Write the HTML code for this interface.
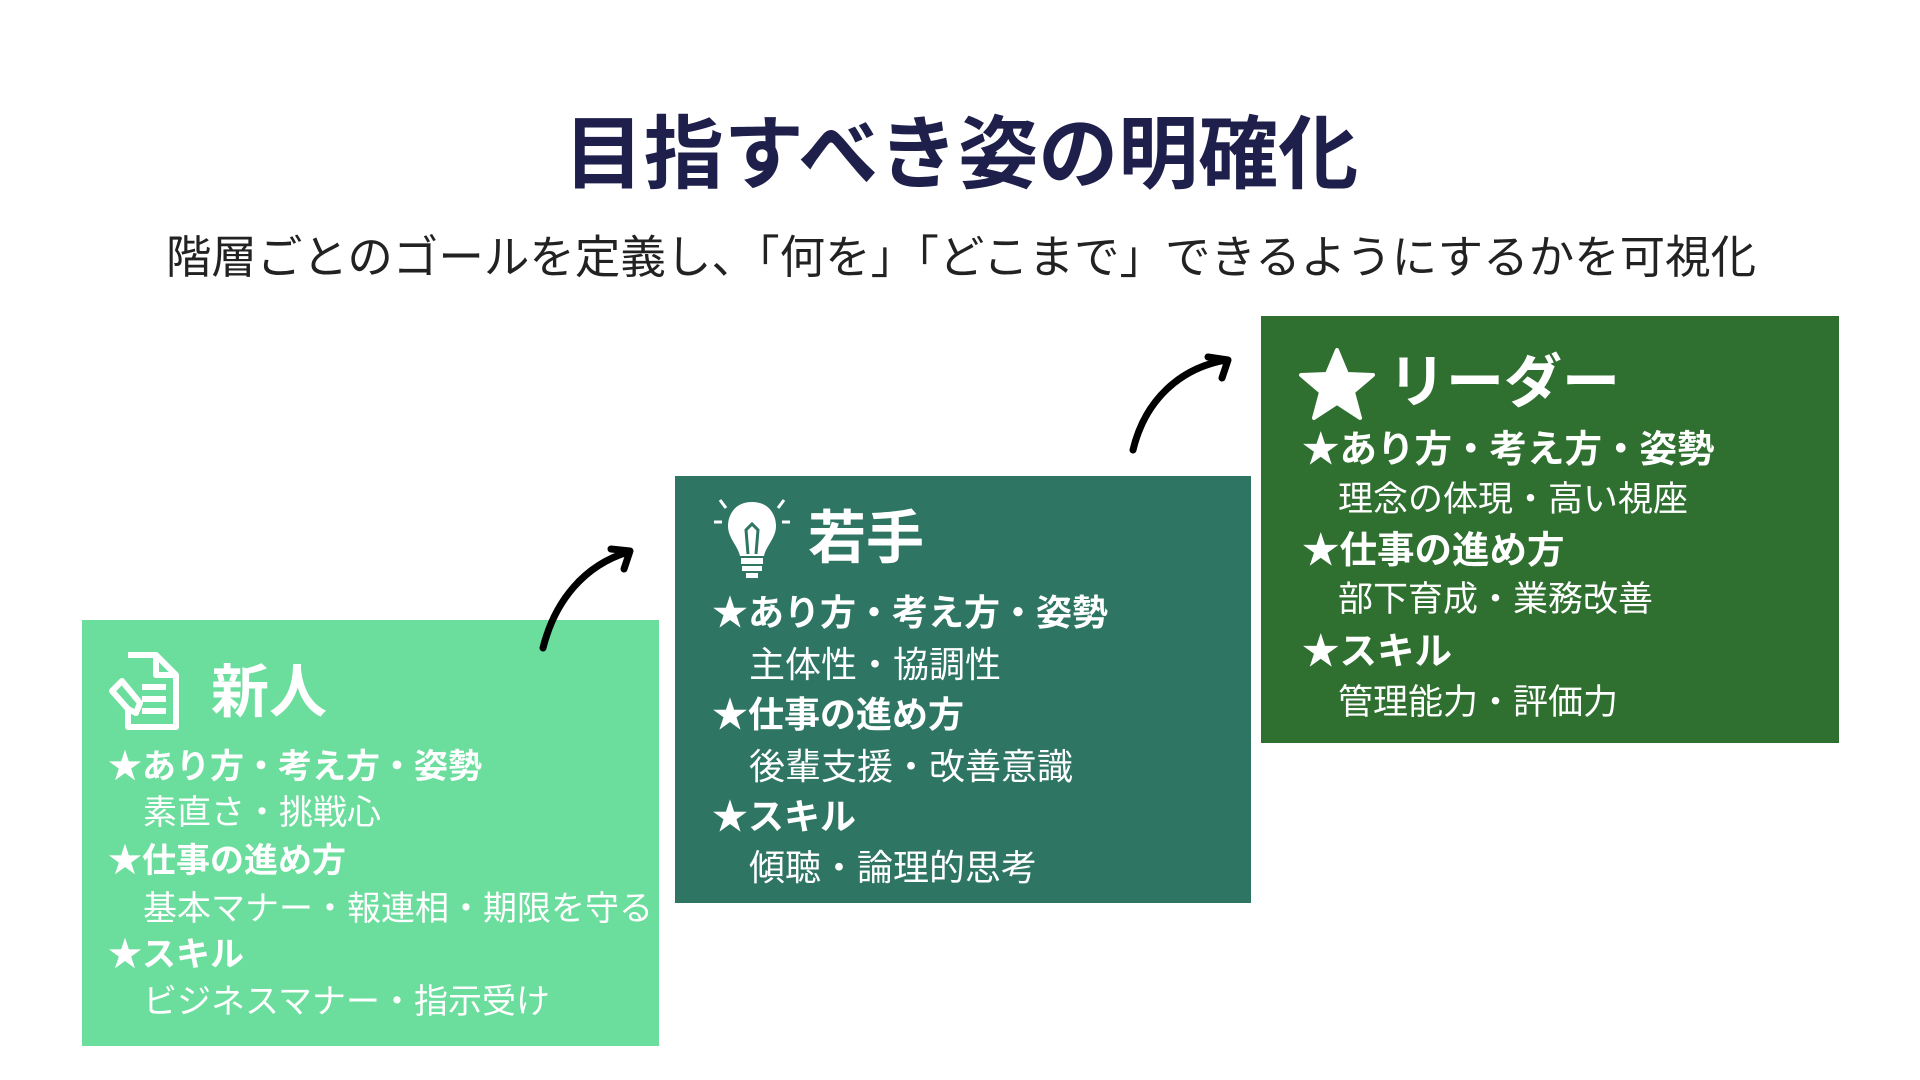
<!DOCTYPE html>
<html><head><meta charset="utf-8"><style>
html,body{margin:0;padding:0;}
body{width:1920px;height:1080px;background:#fff;position:relative;overflow:hidden;font-family:"Liberation Sans","Noto Sans CJK JP",sans-serif;}
.a{position:absolute;white-space:nowrap;}
.box{position:absolute;}
.t{position:absolute;white-space:nowrap;color:#fff;font-size:34px;line-height:40px;}
.t2{font-size:36px;}
.t3{font-size:35px;}
.t3.b{font-size:37.5px;}
.b{font-weight:bold;}
.h{position:absolute;white-space:nowrap;color:#fff;font-size:58px;font-weight:bold;line-height:60px;}
</style></head><body>
<div class="a" style="left:0;width:1922px;text-align:center;top:108px;line-height:94px;font-size:80px;font-weight:bold;color:#1e1f4b;">目指すべき姿の明確化</div>
<div class="a" style="left:0;width:1922px;text-align:center;top:231px;line-height:54px;font-size:45.5px;color:#222;">階層ごとのゴールを定義し、「何を」「どこまで」できるようにするかを可視化</div>

<div class="box" style="left:82px;top:620px;width:577px;height:426px;background:#6bdd9d;"></div>
<div class="box" style="left:675px;top:476px;width:576px;height:427px;background:#2e7663;"></div>
<div class="box" style="left:1261px;top:316px;width:578px;height:427px;background:#2f6f30;"></div>

<!-- box1 -->
<svg class="a" style="left:106px;top:651px" width="80" height="82" viewBox="0 0 80 82">
<g fill="none" stroke="#fff" stroke-width="6" stroke-linejoin="round">
<path d="M22 4 H50 L70 24 V76 H22 V56"/><path d="M50 4 V24 H70"/>
<path d="M36 36 H60 M36 48 H60 M36 60 H60"/>
<path d="M6 40 L16 30 L34 52 L30 62 L22 58 Z"/>
</g></svg>
<div class="h" style="left:211px;top:663px;">新人</div>
<div class="t b" style="left:108px;top:747px;">★あり方・考え方・姿勢</div>
<div class="t" style="left:143px;top:793px;">素直さ・挑戦心</div>
<div class="t b" style="left:108px;top:841px;">★仕事の進め方</div>
<div class="t" style="left:143px;top:889px;">基本マナー・報連相・期限を守る</div>
<div class="t b" style="left:108px;top:935px;">★スキル</div>
<div class="t" style="left:143px;top:982px;">ビジネスマナー・指示受け</div>

<!-- box2 -->
<svg class="a" style="left:710px;top:494px" width="84" height="86" viewBox="0 0 84 86">
<g stroke="#fff" stroke-width="3"><path d="M10 6 L16 14 M74 6 L68 14 M4 28 H12 M72 28 H80"/></g>
<path d="M42 8 C24 8 18 22 18 32 C18 44 28 52 30 62 H54 C56 52 66 44 66 32 C66 22 60 8 42 8 Z" fill="#fff"/>
<path d="M38 60 L36 36 L42 30 L48 36 L46 60" fill="none" stroke="#2e7663" stroke-width="3"/>
<rect x="31" y="64" width="22" height="6" fill="#fff"/><rect x="32" y="72" width="20" height="5" fill="#fff"/><rect x="36" y="79" width="12" height="5" fill="#fff"/>
</svg>
<div class="h" style="left:808px;top:509px;">若手</div>
<div class="t t2 b" style="left:712px;top:593px;">★あり方・考え方・姿勢</div>
<div class="t t2" style="left:749px;top:645px;">主体性・協調性</div>
<div class="t t2 b" style="left:712px;top:695px;">★仕事の進め方</div>
<div class="t t2" style="left:749px;top:747px;">後輩支援・改善意識</div>
<div class="t t2 b" style="left:712px;top:797px;">★スキル</div>
<div class="t t2" style="left:749px;top:848px;">傾聴・論理的思考</div>

<!-- box3 -->
<svg class="a" style="left:1298px;top:347px" width="78" height="74" viewBox="0 0 78 74">
<path d="M39 3 L49 27 L75 28 L55 45 L62 71 L39 56 L16 71 L23 45 L3 28 L29 27 Z" fill="#fff" stroke="#fff" stroke-width="4" stroke-linejoin="round"/>
</svg>
<div class="h" style="left:1388px;top:353px;">リーダー</div>
<div class="t t3 b" style="left:1302px;top:429px;">★あり方・考え方・姿勢</div>
<div class="t t3" style="left:1338px;top:480px;">理念の体現・高い視座</div>
<div class="t t3 b" style="left:1302px;top:530px;">★仕事の進め方</div>
<div class="t t3" style="left:1338px;top:580px;">部下育成・業務改善</div>
<div class="t t3 b" style="left:1302px;top:631px;">★スキル</div>
<div class="t t3" style="left:1338px;top:683px;">管理能力・評価力</div>

<!-- arrows -->
<svg class="a" style="left:0;top:0" width="1920" height="1080">
<g fill="none" stroke="#000" stroke-width="7" stroke-linecap="round" stroke-linejoin="round">
<path d="M543 648 C555 600 585 565 628 552"/>
<path d="M611 549 L630 551 L624 569"/>
<path d="M1133 450 C1145 400 1180 368 1226 360"/>
<path d="M1208 357 L1228 360 L1222 378"/>
</g></svg>
</body></html>
